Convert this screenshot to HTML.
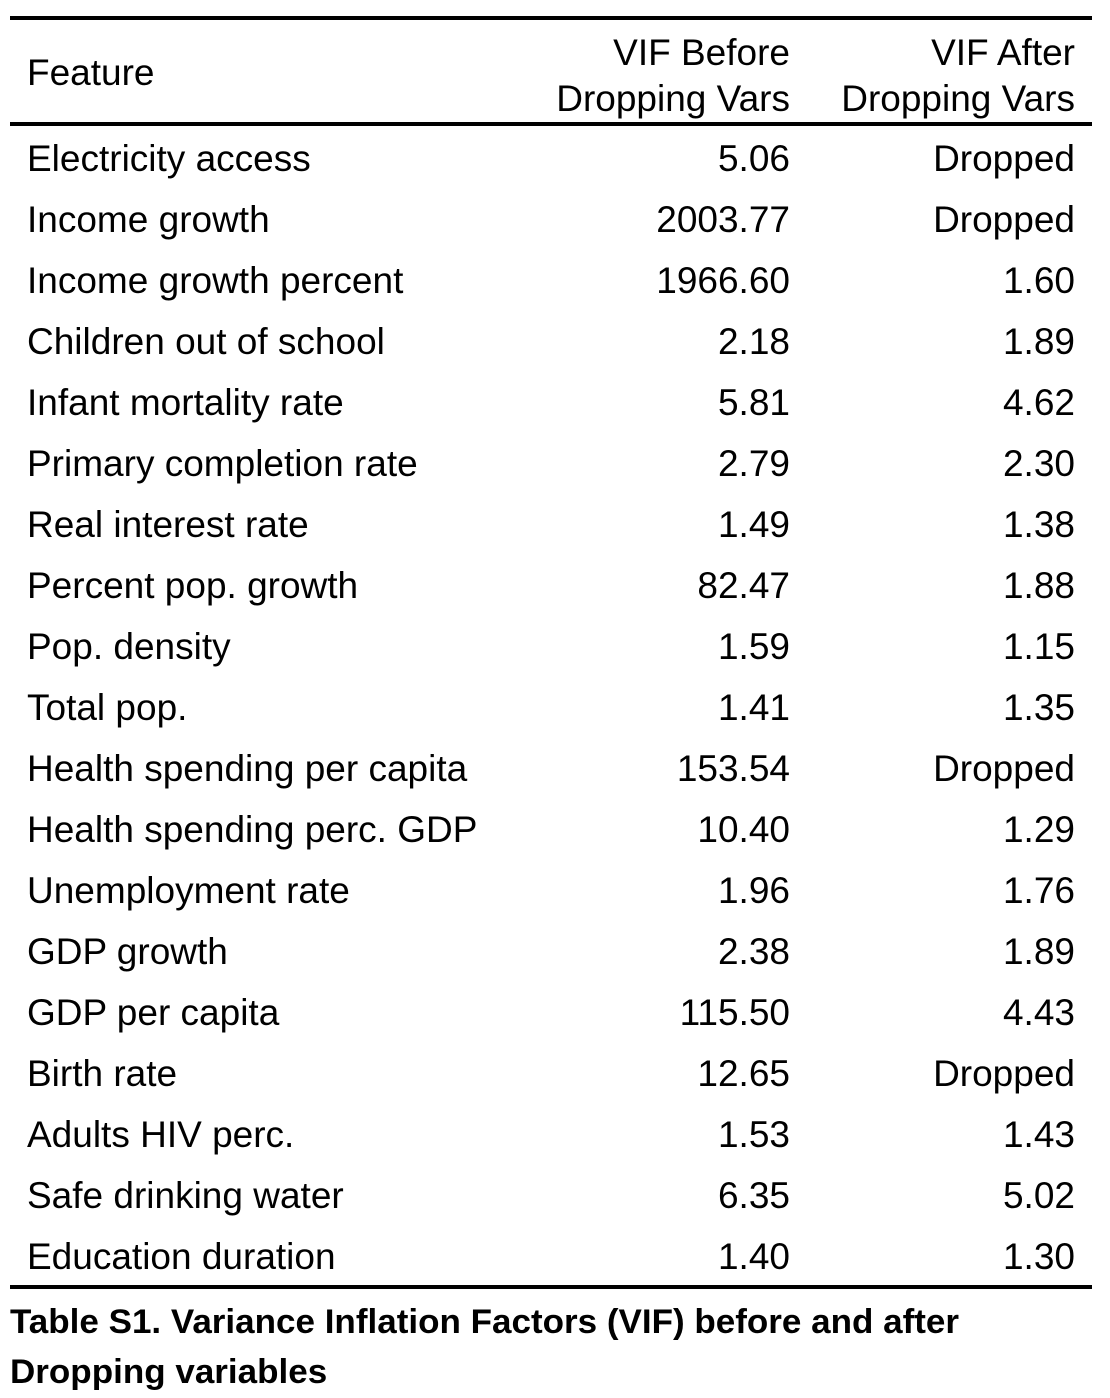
<!DOCTYPE html>
<html><head><meta charset="utf-8"><style>
body{margin:0;background:#fff;width:1110px;height:1398px;position:relative;overflow:hidden;font-family:"Liberation Sans",Arial,sans-serif;color:#000}
.l{position:absolute;left:10px;width:1082px;background:#000}
.t{position:absolute;font-size:37px;line-height:40px;white-space:nowrap}
.c1{left:27px}
.c2{right:320px;text-align:right}
.c3{right:35px;text-align:right}
.cap{position:absolute;left:10px;font-weight:bold;font-size:34px;white-space:nowrap;transform-origin:0 0;transform:scaleX(1.03)}
</style></head><body>
<div class="l" style="top:16px;height:4px"></div>
<div class="l" style="top:122px;height:4px"></div>
<div class="l" style="top:1285px;height:4px"></div>
<div class="t c1" style="top:53px">Feature</div>
<div class="t c2" style="top:30px;line-height:46px">VIF Before<br>Dropping Vars</div>
<div class="t c3" style="top:30px;line-height:46px">VIF After<br>Dropping Vars</div>
<div class="cap" style="top:1297px;line-height:50px">Table S1. Variance Inflation Factors (VIF) before and after<br>Dropping variables</div>
<script>
const features=["Electricity access","Income growth","Income growth percent","Children out of school","Infant mortality rate","Primary completion rate","Real interest rate","Percent pop. growth","Pop. density","Total pop.","Health spending per capita","Health spending perc. GDP","Unemployment rate","GDP growth","GDP per capita","Birth rate","Adults HIV perc.","Safe drinking water","Education duration"];
const before=["5.06","2003.77","1966.60","2.18","5.81","2.79","1.49","82.47","1.59","1.41","153.54","10.40","1.96","2.38","115.50","12.65","1.53","6.35","1.40"];
const after=["Dropped","Dropped","1.60","1.89","4.62","2.30","1.38","1.88","1.15","1.35","Dropped","1.29","1.76","1.89","4.43","Dropped","1.43","5.02","1.30"];
const root=document.body;
features.forEach((f,i)=>{
  const top=139+i*61;
  [[f,'c1','feature-cell'],[before[i],'c2','vif-before-cell'],[after[i],'c3','vif-after-cell']].forEach(([txt,cls,nm])=>{
    const d=document.createElement('div');
    d.className='t '+cls;
    d.style.top=top+'px';
    d.textContent=txt;
    
    
    root.appendChild(d);
  });
});
</script>
</body></html>
